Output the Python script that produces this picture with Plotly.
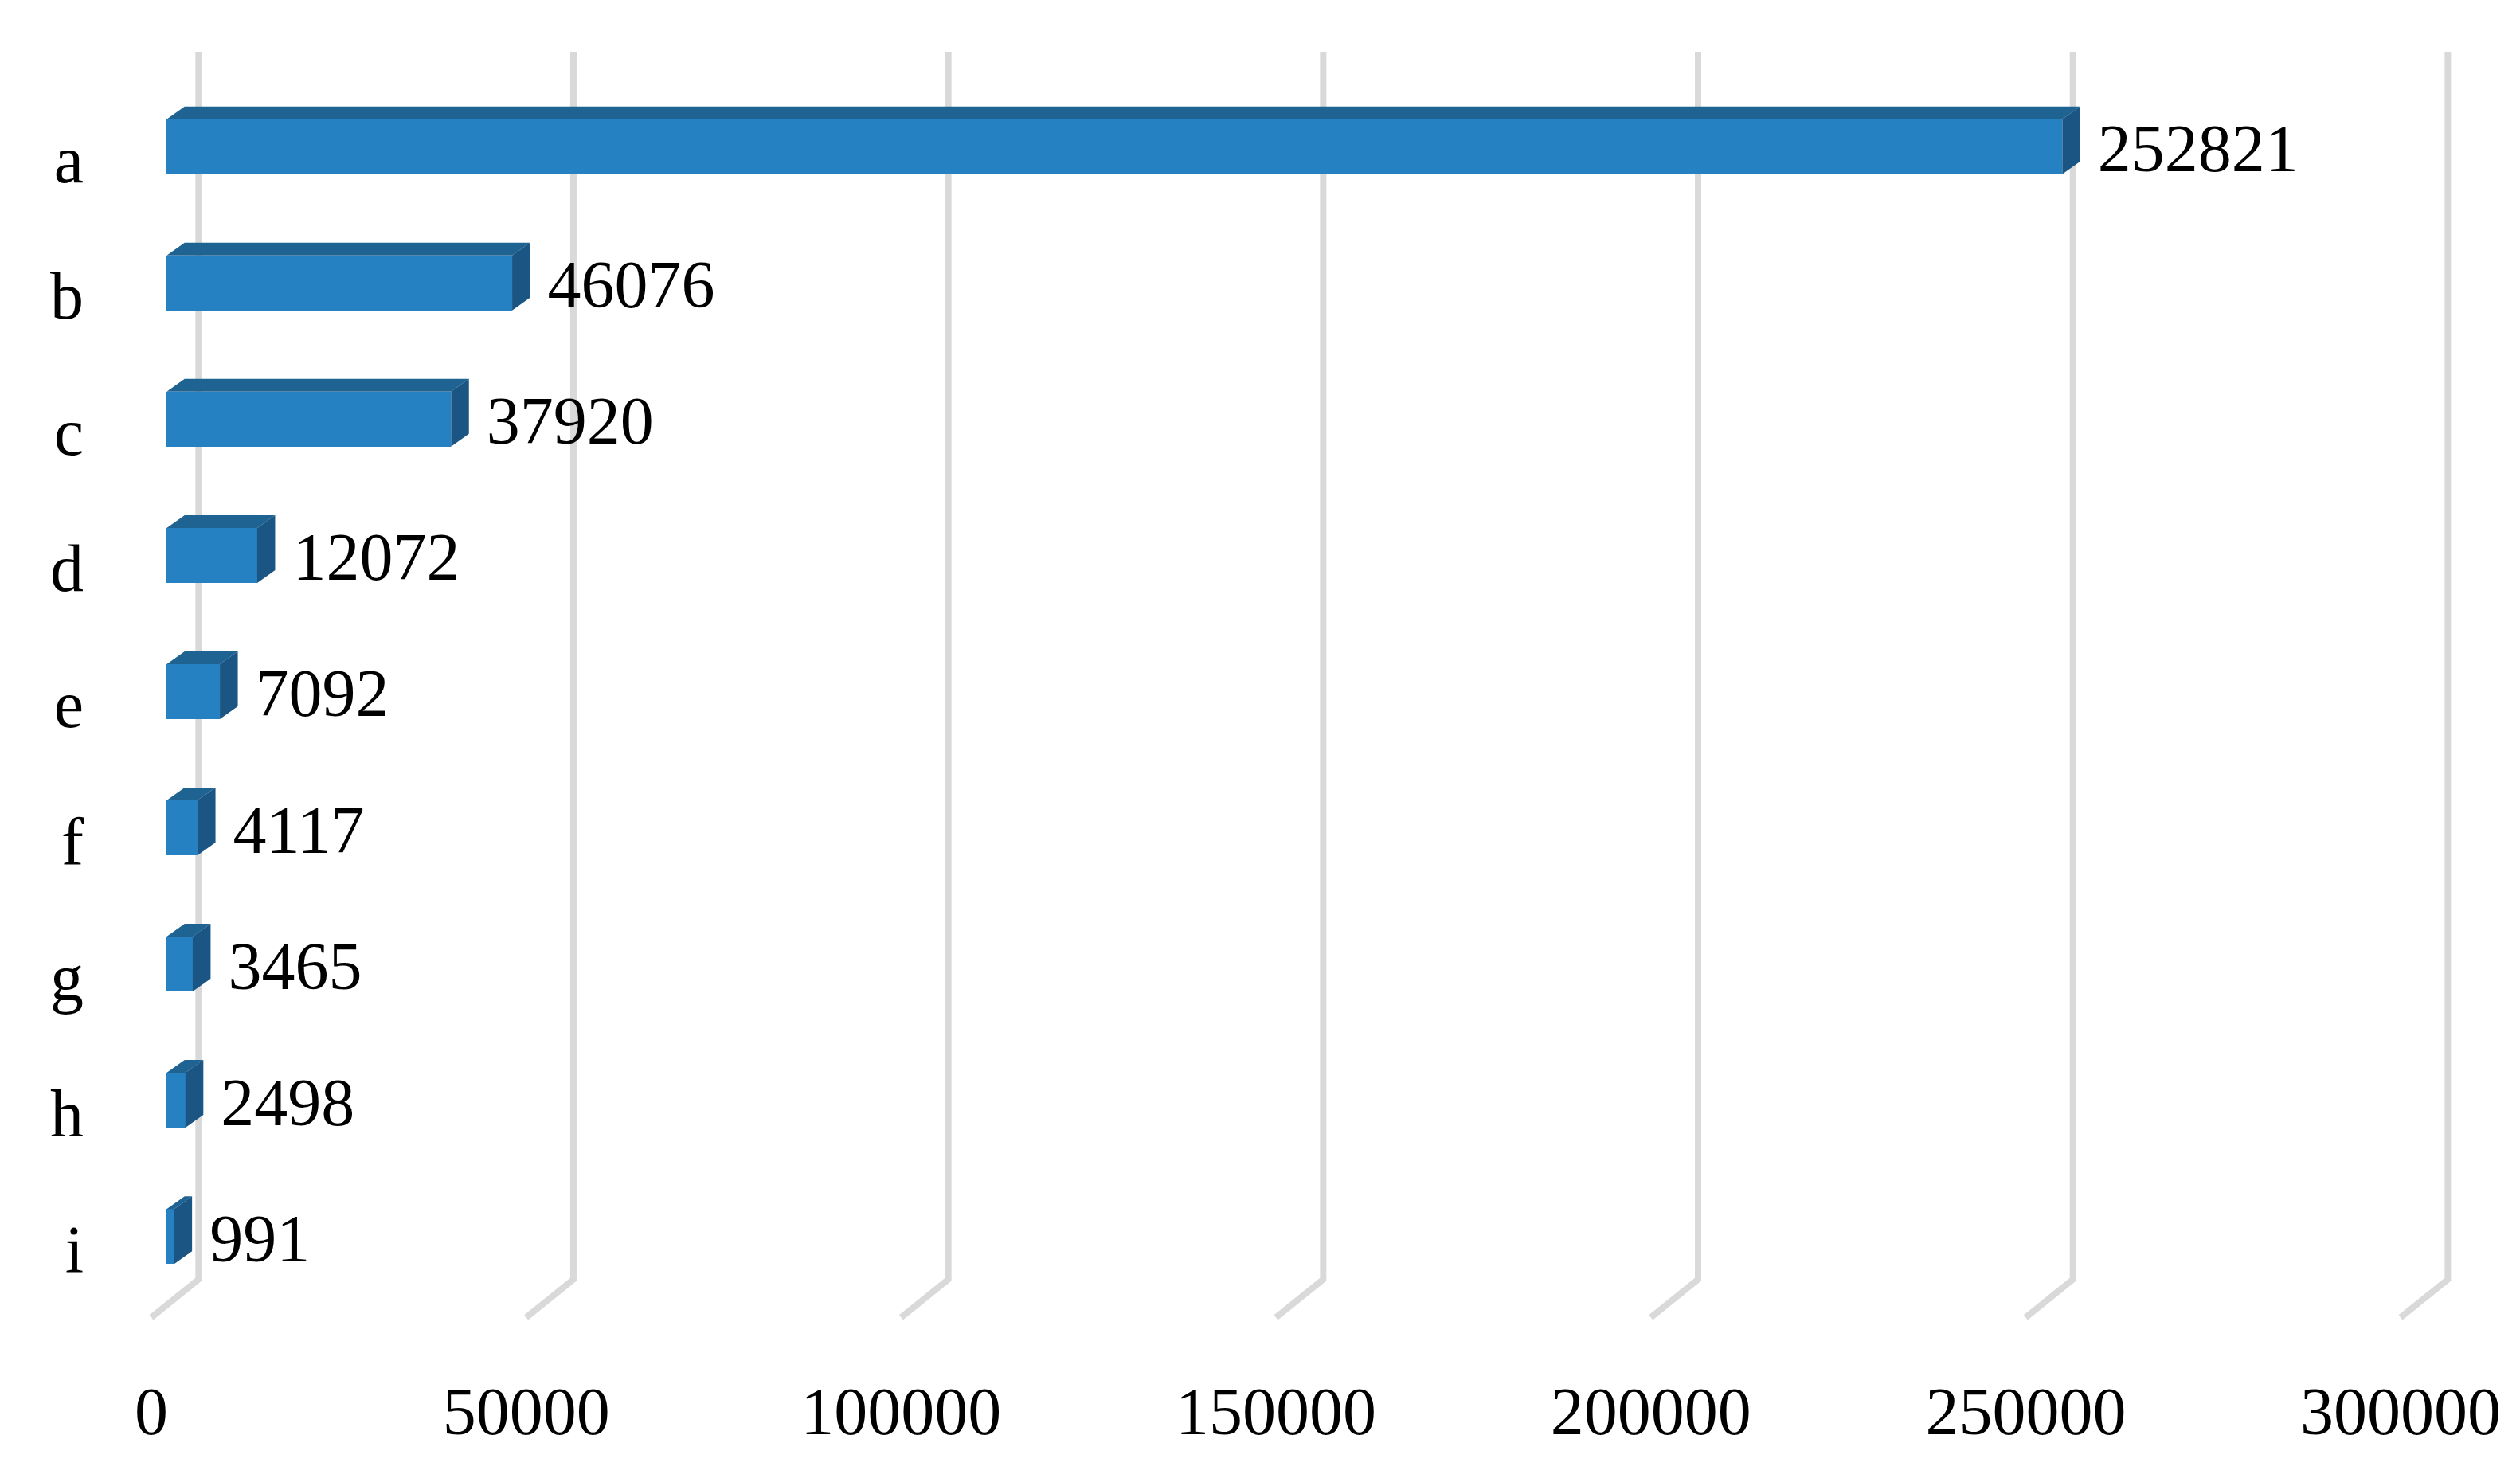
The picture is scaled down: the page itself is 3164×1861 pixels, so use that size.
import plotly.graph_objects as go

# ---------------- data ----------------
categories = ["a", "b", "c", "d", "e", "f", "g", "h", "i"]
values = [252821, 46076, 37920, 12072, 7092, 4117, 3465, 2498, 991]
x_tick_values = [0, 50000, 100000, 150000, 200000, 250000, 300000]
x_tick_labels = ["0", "50000", "100000", "150000", "200000", "250000", "300000"]

# ---------------- styling / 3D projection constants ----------------
W, H = 3164, 1861
M_L, M_R, M_T, M_B = 110, 0, 0, 161
PX_PER_UNIT = 0.0094136          # horizontal scale of the value axis
UPX = 1.0 / PX_PER_UNIT          # value units per pixel
STEP_PX = 171.06                 # pixels between categories

X0 = -80 * UPX                   # axis start (left edge of plot area)
X1 = X0 + (W - M_L - M_R) * UPX
Y_TOP = -199.8 / STEP_PX
Y_BOT = Y_TOP + (H - M_T - M_B) / STEP_PX

FRONT_DX = 19.3 * UPX            # bar front plane shift (from floor front)
WALL_DX = 59.3 * UPX             # back wall shift (from floor front)
BAR_DX = 22.5 * UPX              # bar depth, horizontal
BAR_DY = -16.0 / STEP_PX         # bar depth, vertical (up)
BAR_SHIFT = -15.6 / STEP_PX      # bar front centre relative to category tick
BAR_H = 69.0 / STEP_PX           # bar front face height
LABEL_SHIFT = 10.0 / STEP_PX
LABEL_GAP = 22.0 * UPX
WALL_TOP = -134.8 / STEP_PX
WALL_CORNER = 8 + 38.4 / STEP_PX
FLOOR_FRONT = 8 + 86.0 / STEP_PX

C_FRONT = "#2681C2"
C_TOP = "#1F6393"
C_SIDE = "#1A5583"
C_GRID = "#D9D9D9"
FONT = "Liberation Serif, Times New Roman, serif"
FS = 84

ypos = list(range(len(categories)))

fig = go.Figure()

# gridlines on back wall + floor (drawn below all traces)
shapes = []
for v in x_tick_values:
    xb = v + WALL_DX
    shapes.append(dict(
        type="path", xref="x", yref="y", layer="below",
        path=f"M {xb},{WALL_TOP} L {xb},{WALL_CORNER} L {v},{FLOOR_FRONT}",
        line=dict(color=C_GRID, width=8)))

# top and side faces
for v, p in zip(values, ypos):
    yc = p + BAR_SHIFT
    yt = yc - BAR_H / 2
    yb = yc + BAR_H / 2
    xl = FRONT_DX
    xr = FRONT_DX + v
    fig.add_trace(go.Scatter(
        x=[xl, xr, xr + BAR_DX, xl + BAR_DX, xl],
        y=[yt, yt, yt + BAR_DY, yt + BAR_DY, yt],
        mode="lines", fill="toself", fillcolor=C_TOP,
        line=dict(width=0, color=C_TOP), hoverinfo="skip", showlegend=False))
    fig.add_trace(go.Scatter(
        x=[xr, xr + BAR_DX, xr + BAR_DX, xr, xr],
        y=[yt, yt + BAR_DY, yb + BAR_DY, yb, yt],
        mode="lines", fill="toself", fillcolor=C_SIDE,
        line=dict(width=0, color=C_SIDE), hoverinfo="skip", showlegend=False))

# front faces
fig.add_trace(go.Bar(
    x=values, y=[p + BAR_SHIFT for p in ypos], base=FRONT_DX,
    orientation="h", width=BAR_H, marker=dict(color=C_FRONT, line=dict(width=0)),
    showlegend=False, hoverinfo="x"))

# value labels
fig.add_trace(go.Scatter(
    x=[FRONT_DX + v + BAR_DX + LABEL_GAP for v in values],
    y=[p + BAR_SHIFT + LABEL_SHIFT for p in ypos],
    mode="text", text=[str(v) for v in values], textposition="middle right",
    textfont=dict(family=FONT, size=FS, color="black"),
    cliponaxis=False, hoverinfo="skip", showlegend=False))

fig.update_layout(
    width=W, height=H,
    margin=dict(l=M_L, r=M_R, t=M_T, b=M_B, pad=0),
    paper_bgcolor="white", plot_bgcolor="white",
    bargap=0,
    shapes=shapes,
    xaxis=dict(range=[X0, X1], tickvals=x_tick_values, ticktext=x_tick_labels,
               showgrid=False, zeroline=False, showline=False, ticks="",
               tickfont=dict(family=FONT, size=FS, color="black"),
               ticklabelstandoff=16),
    yaxis=dict(range=[Y_BOT, Y_TOP], tickvals=ypos, ticktext=categories,
               showgrid=False, zeroline=False, showline=False, ticks="",
               tickfont=dict(family=FONT, size=FS, color="black"),
               ticklabelstandoff=4),
)

fig.write_html("out.html",
               config={"displayModeBar": False},
               post_script="document.body.style.margin='0';document.body.style.overflow='hidden';")
